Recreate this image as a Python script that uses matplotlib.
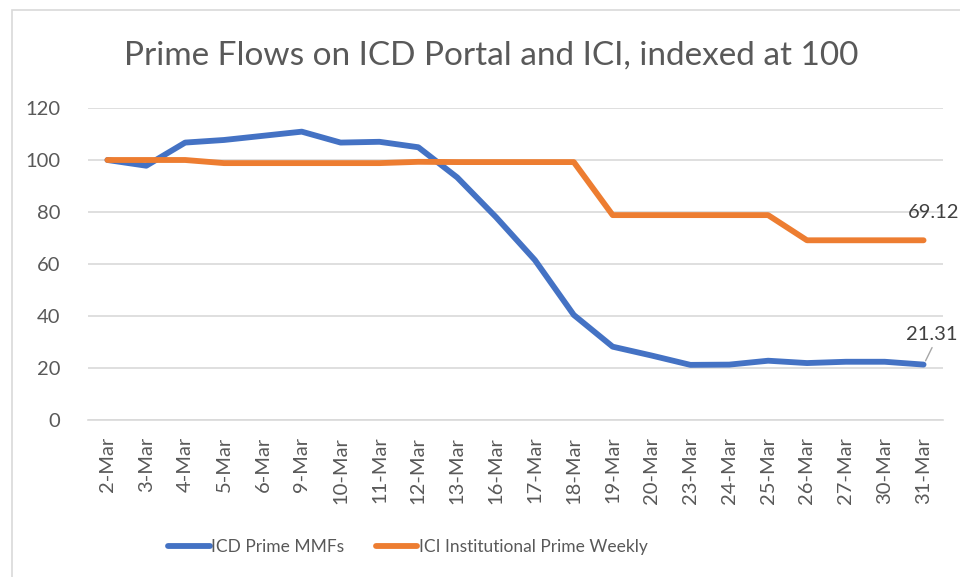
import matplotlib
matplotlib.use("Agg")
import matplotlib.pyplot as plt
from matplotlib.patches import Rectangle

dates = ["2-Mar", "3-Mar", "4-Mar", "5-Mar", "6-Mar", "9-Mar", "10-Mar", "11-Mar",
         "12-Mar", "13-Mar", "16-Mar", "17-Mar", "18-Mar", "19-Mar", "20-Mar",
         "23-Mar", "24-Mar", "25-Mar", "26-Mar", "27-Mar", "30-Mar", "31-Mar"]
icd_prime = [100, 97.8, 106.7, 107.7, 109.3, 110.9, 106.7, 107.0, 104.9, 93.3,
             78.0, 61.5, 40.4, 28.2, 24.8, 21.2, 21.3, 22.8, 21.9, 22.4, 22.4, 21.31]
ici_prime = [100, 100, 100, 98.8, 98.8, 98.8, 98.8, 98.8, 99.3, 99.2,
             99.2, 99.2, 99.2, 78.8, 78.8, 78.8, 78.8, 78.8, 69.12, 69.12, 69.12, 69.12]
series_names = ["ICD Prime MMFs", "ICI Institutional Prime Weekly"]
y_ticks = [0, 20, 40, 60, 80, 100, 120]

plt.rcParams['font.family'] = ['Lato', 'DejaVu Sans']
gray = '#595959'

fig = plt.figure(figsize=(9.6, 5.77), dpi=100)
fig.patches.append(Rectangle((12/960, -0.1), 1.2, (577-10)/577 + 0.1,
                             transform=fig.transFigure, fill=False,
                             edgecolor='#d9d9d9', linewidth=1.2, zorder=0))

ax = fig.add_axes([88/960, 157/577, (943-88)/960, (420-108)/577])
x = list(range(len(dates)))
ax.plot(x, icd_prime, color='#4472c4', linewidth=4.2, solid_capstyle='round',
        solid_joinstyle='round', label=series_names[0], zorder=3)
ax.plot(x, ici_prime, color='#ed7d31', linewidth=4.2, solid_capstyle='round',
        solid_joinstyle='round', label=series_names[1], zorder=3)

ax.set_xlim(-0.5, len(dates) - 0.5)
ax.set_ylim(0, 120)
ax.set_yticks(y_ticks)
ax.set_xticks(x)
ax.set_xticklabels(dates, rotation=90)
ax.tick_params(axis='both', length=0, colors=gray, labelsize=14.5)
ax.tick_params(axis='x', pad=12)
ax.tick_params(axis='y', pad=20)
ax.grid(axis='y', color='#d9d9d9', linewidth=1.2)
ax.set_axisbelow(True)
for s in ['top', 'right', 'left']:
    ax.spines[s].set_visible(False)
ax.spines['bottom'].set_color('#d9d9d9')
ax.spines['bottom'].set_linewidth(1.2)

# data labels
ax.annotate(f"{ici_prime[-1]:.2f}", xy=(x[-1], ici_prime[-1]), xytext=(-11, 20),
            textcoords='offset points', fontsize=14.5, color='#404040',
            ha='left', va='center', annotation_clip=False)
ax.annotate(f"{icd_prime[-1]:.2f}", xy=(x[-1], icd_prime[-1]), xytext=(-13, 22),
            textcoords='offset points', fontsize=14.5, color='#404040',
            ha='left', va='center', annotation_clip=False)
ax.annotate("", xy=(x[-1] + 0.02, icd_prime[-1] + 0.5), xytext=(x[-1] + 0.25, icd_prime[-1] + 7.5),
            arrowprops=dict(arrowstyle='-', color='#a6a6a6', lw=1), annotation_clip=False)

fig.text(491/960, 1 - 56/577, "Prime Flows on ICD Portal and ICI, indexed at 100",
         ha='center', va='center', fontsize=24, color=gray)

leg = fig.legend(loc='center', bbox_to_anchor=(408/960, 1 - 547/577), ncol=2,
                 frameon=False, fontsize=12.5, handlelength=2.4, handletextpad=0.1,
                 columnspacing=1.8, labelcolor=gray)

fig.savefig("out.png", dpi=100)
